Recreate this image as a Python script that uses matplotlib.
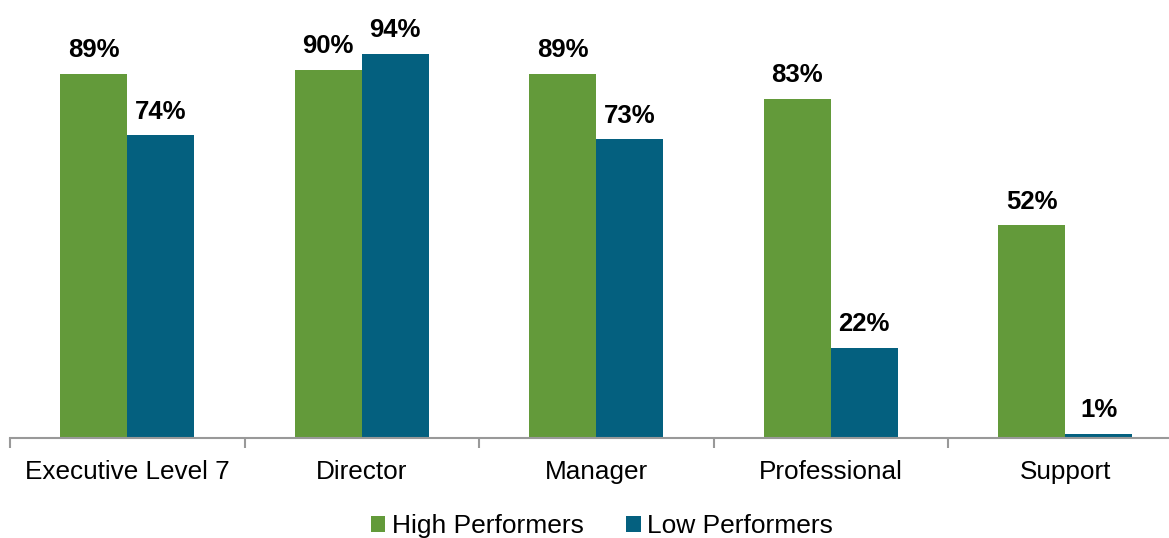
import matplotlib
matplotlib.use("Agg")
import matplotlib.pyplot as plt
import numpy as np

plt.rcParams['font.family'] = ['Liberation Sans', 'DejaVu Sans']

categories = ['Executive Level 7', 'Director', 'Manager', 'Professional', 'Support']
high_performers = [89, 90, 89, 83, 52]
low_performers = [74, 94, 73, 22, 1]

green = '#639A3A'
blue = '#04607F'

fig = plt.figure(figsize=(11.69, 5.38), dpi=100)
ax = fig.add_axes([10 / 1169, 100 / 538, 1172.5 / 1169, 409 / 538])

x = np.arange(len(categories))
w = 0.286
b1 = ax.bar(x - w / 2, high_performers, w, color=green, label='High Performers')
b2 = ax.bar(x + w / 2, low_performers, w, color=blue, label='Low Performers')

# value labels above each bar
for bars in (b1, b2):
    for bar in bars:
        h = bar.get_height()
        ax.annotate(f'{h:.0f}%', (bar.get_x() + bar.get_width() / 2, h),
                    xytext=(0, 8.5), textcoords='offset points',
                    ha='center', va='bottom', fontsize=18.5, fontweight='bold')

ax.set_xlim(-0.5, len(categories) - 0.5)
ax.set_ylim(0, 100)
for s in ['top', 'right', 'left']:
    ax.spines[s].set_visible(False)
ax.spines['bottom'].set_color('#999999')
ax.spines['bottom'].set_linewidth(1.5)
ax.set_yticks([])

# ticks at category boundaries, labels centred in categories
ax.set_xticks(np.arange(-0.5, len(categories), 1.0))
ax.set_xticklabels([])
ax.tick_params(axis='x', direction='out', length=7, width=1.5, color='#999999')
for i, c in enumerate(categories):
    ax.text(i, -0.083, c, transform=ax.get_xaxis_transform(),
            ha='center', va='center', fontsize=18.8)

fig.legend(loc='center', bbox_to_anchor=(0.515, 0.022), ncol=2, frameon=False,
           fontsize=19, handlelength=0.55, handleheight=0.55,
           handletextpad=0.25, columnspacing=1.6)

fig.savefig('out.png', dpi=100)
